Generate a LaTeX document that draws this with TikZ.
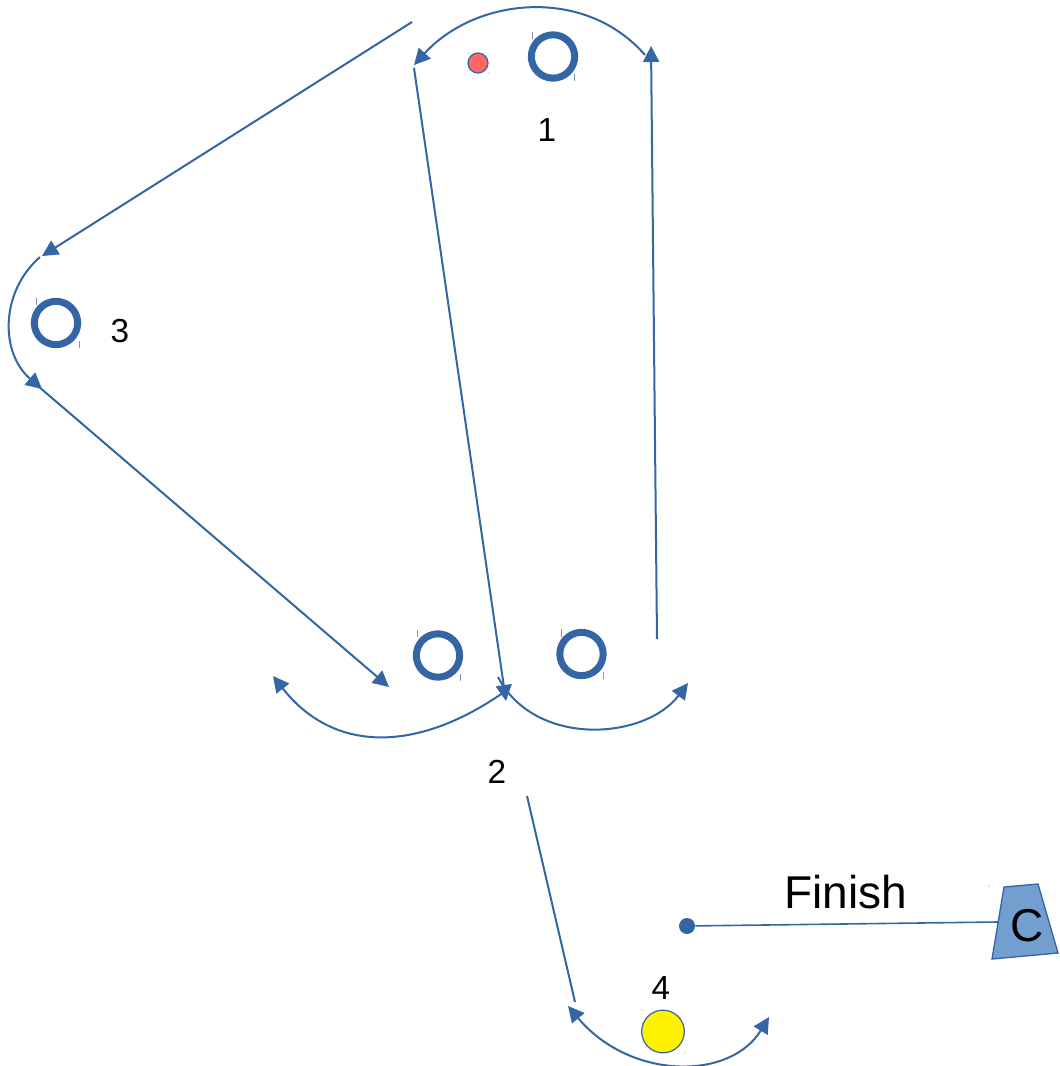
\documentclass[tikz,border=0pt]{standalone}
\usepackage{fontspec}
\setmainfont{Liberation Sans}
\usetikzlibrary{arrows.meta}
\definecolor{myblue}{HTML}{3465A4}
\definecolor{lightblue}{HTML}{729FCF}
\definecolor{reddot}{HTML}{FF6666}
\definecolor{tickc}{HTML}{7A96C4}
\tikzset{
  tip/.tip={Triangle[length=12pt,width=12pt]},
  conn/.style={draw=myblue, line width=1.5pt, -tip},
  bothconn/.style={draw=myblue, line width=1.5pt, tip-tip},
  plainconn/.style={draw=myblue, line width=1.5pt},
  ring/.style={circle, draw=myblue, line width=5.25pt, minimum size=32.5pt, inner sep=0pt},
  lab/.style={font=\fontsize{25}{28}\selectfont, inner sep=0pt},
  bigtext/.style={font=\fontsize{34.5}{38}\selectfont, inner sep=0pt},
  tick/.style={draw=tickc, line width=0.6pt},
}
\begin{document}
\begin{tikzpicture}[x=0.75pt,y=-0.75pt]
\useasboundingbox (0,0) rectangle (1059,1066);

% rings
\node[ring] (r1) at (553,56.5) {};
\node[ring] (r3) at (56,323) {};
\node[ring] (r2a) at (438,655.5) {};
\node[ring] (r2b) at (581.5,654) {};

% small tick marks
\draw[tick] (532,32) -- (532,39) (574,74) -- (574,81);
\draw[tick] (36,298) -- (36,305) (79,341) -- (79,348);
\draw[tick] (417,630) -- (417,637) (460,674) -- (460,681);
\draw[tick] (561,629) -- (561,637) (603,672) -- (603,679);
\fill[tickc] (20,369) circle (0.6) (468,53) circle (0.6) (489,73) circle (0.6)
  (642,1010) circle (0.6) (685,1053) circle (0.6) (989,886) circle (0.6);

% red dot
\node[circle, draw=myblue, fill=reddot, line width=0.9pt, minimum size=15pt, inner sep=0pt] (red) at (478,63) {};

% labels
\node[lab] (l1) at (547,130) {1};
\node[lab] (l3) at (120,331) {3};
\node[lab] (l2) at (497,772) {2};
\node[lab] (l4) at (661,988) {4};

% yellow circle
\node[circle, draw=myblue, fill=yellow, line width=0.9pt, minimum size=32pt, inner sep=0pt] (yel) at (663,1031.5) {};

% coordinates for free connector ends
\coordinate (a1s) at (412,22);
\coordinate (a1e) at (42,256);
\coordinate (c3s) at (40,257);
\coordinate (c3e) at (42,389);
\coordinate (a3s) at (38,386);
\coordinate (a3e) at (389,687);
\coordinate (a6s) at (414,68);
\coordinate (a6e) at (506,701);
\coordinate (a8s) at (657,639);
\coordinate (a8e) at (651,46);
\coordinate (ctS) at (645,55);
\coordinate (ctE) at (414,65);
\coordinate (cblS) at (507,690);
\coordinate (cblE) at (273,676);
\coordinate (cbrS) at (498,677);
\coordinate (cbrE) at (688,683);
\coordinate (a9s) at (527,796);
\coordinate (a9e) at (575,1002);
\coordinate (c4S) at (568,1006);
\coordinate (c4E) at (769,1017);

% straight arrows
\draw[conn] (a1s) -- (a1e);
\draw[conn] (a3s) -- (a3e);
\draw[conn] (a6s) -- (a6e);
\draw[conn] (a8s) -- (a8e);
\draw[plainconn] (a9s) -- (a9e);

% curved arrows
\draw[conn] (ctS) .. controls (585,-14) and (476,-3) .. (ctE);
\draw[conn] (c3s) .. controls (0,292) and (0,353) .. (c3e);
\draw[conn] (cblS) .. controls (420,752) and (335,755) .. (cblE);
\draw[conn] (cbrS) .. controls (535,748) and (645,740) .. (cbrE);
\draw[bothconn] (c4S) .. controls (630,1080) and (730,1081) .. (c4E);

% finish
\node[circle, fill=myblue, minimum size=12pt, inner sep=0pt] (dot) at (687,926) {};
\node[bigtext] (fin) at (846,892) {Finish};
\draw[draw=myblue, fill=lightblue, line width=1pt] (1004,887) -- (1038,884) -- (1058,953) -- (992,959) -- cycle;
\node[bigtext] (C) at (1027,926) {C};
\coordinate (trapL) at (998,922);
\draw[plainconn, line width=1.2pt] (dot) -- (trapL);
\end{tikzpicture}
\end{document}
